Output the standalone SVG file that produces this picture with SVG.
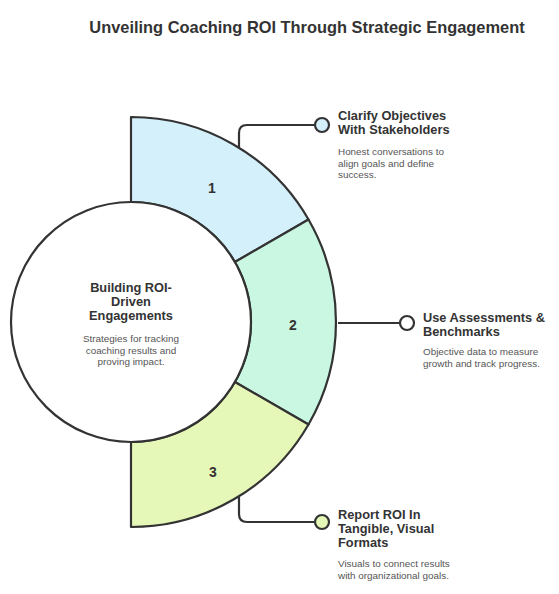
<svg xmlns="http://www.w3.org/2000/svg" width="559" height="594" viewBox="0 0 559 594">
<style>
.seg{stroke:#333;stroke-width:2.2;stroke-linejoin:round}
.con{fill:none;stroke:#333;stroke-width:2.2}
.dot{stroke:#333;stroke-width:2.2}
.t{font-family:"Liberation Sans",Arial,sans-serif;fill:#333}
.title{font-size:16.4px;font-weight:bold;text-anchor:middle}
.h{font-size:12.8px;font-weight:bold}
.d{font-size:9.9px;fill:#555}
.n{font-size:14px;font-weight:bold;text-anchor:middle}
.c{text-anchor:middle}
</style>
<rect width="559" height="594" fill="#fff"/>
<text class="t title" x="307" y="33">Unveiling Coaching ROI Through Strategic Engagement</text>
<g id="seg1">
<path class="seg" fill="#d4f1fb" d="M131,202 L131,117 A205,205 0 0 1 308.5,219.5 L234.9,262 A120,120 0 0 0 131,202 Z"/>
<text class="t n" x="212" y="193">1</text>
</g>
<g id="seg2">
<path class="seg" fill="#c9f7e1" d="M308.5,219.5 A205,205 0 0 1 308.5,424.5 L234.9,382 A120,120 0 0 0 234.9,262 Z"/>
<text class="t n" x="293" y="330">2</text>
</g>
<g id="seg3">
<path class="seg" fill="#e6f8b7" d="M308.5,424.5 A205,205 0 0 1 131,527 L131,442 A120,120 0 0 0 234.9,382 Z"/>
<text class="t n" x="213" y="477">3</text>
</g>
<g id="center">
<circle cx="131" cy="322" r="120" fill="#fff" stroke="#333" stroke-width="2.2"/>
<text class="t h c" x="131" y="292">Building ROI-</text>
<text class="t h c" x="131" y="306">Driven</text>
<text class="t h c" x="131" y="320">Engagements</text>
<text class="t d c" x="131" y="342">Strategies for tracking</text>
<text class="t d c" x="131" y="353.5">coaching results and</text>
<text class="t d c" x="131" y="365">proving impact.</text>
</g>
<g id="connectors">
<path class="con" d="M239,148 L239,133 Q239,125 247,125 L315,125"/>
<path class="con" d="M338,323 L400,323"/>
<path class="con" d="M239,497 L239,514 Q239,522 247,522 L315,522"/>
</g>
<g id="item1">
<circle class="dot" cx="322" cy="125" r="7" fill="#d4f1fb"/>
<text class="t h" x="338" y="120">Clarify Objectives</text>
<text class="t h" x="338" y="134">With Stakeholders</text>
<text class="t d" x="338" y="155">Honest conversations to</text>
<text class="t d" x="338" y="166.5">align goals and define</text>
<text class="t d" x="338" y="178">success.</text>
</g>
<g id="item2">
<circle class="dot" cx="407" cy="323" r="7" fill="#fff"/>
<text class="t h" x="423" y="322">Use Assessments &amp;</text>
<text class="t h" x="423" y="336">Benchmarks</text>
<text class="t d" x="423" y="355">Objective data to measure</text>
<text class="t d" x="423" y="366.5">growth and track progress.</text>
</g>
<g id="item3">
<circle class="dot" cx="322" cy="522" r="7" fill="#e6f8b7"/>
<text class="t h" x="338" y="519">Report ROI In</text>
<text class="t h" x="338" y="533">Tangible, Visual</text>
<text class="t h" x="338" y="547">Formats</text>
<text class="t d" x="338" y="567">Visuals to connect results</text>
<text class="t d" x="338" y="578.5">with organizational goals.</text>
</g>
</svg>
